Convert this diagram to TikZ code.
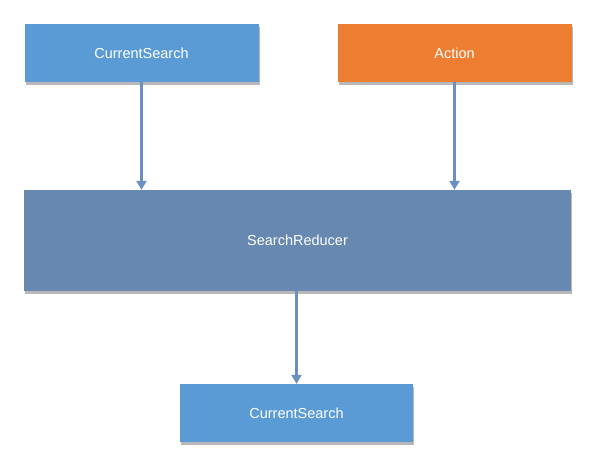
\documentclass[tikz,border=0pt]{standalone}
\usepackage{fontspec}
\setmainfont{Liberation Sans}
\usetikzlibrary{arrows.meta,shadows}

\definecolor{boxblue}{HTML}{5B9BD5}
\definecolor{boxorange}{HTML}{ED7D31}
\definecolor{reducer}{HTML}{6788B1}
\definecolor{flow}{HTML}{6A8FC0}

\tikzset{
  block/.style={rectangle, inner sep=0pt, text=white, font=\fontsize{14.5}{17}\selectfont,
    drop shadow={shadow xshift=1pt, shadow yshift=-2.5pt, fill=black!35, opacity=0.8}},
  flowarrow/.style={draw=flow, line width=2.2pt, -{Triangle[width=10pt,length=9pt,fill=boxblue]}}
}

\begin{document}
\begin{tikzpicture}[x=1pt,y=-1pt]
  \useasboundingbox (0,0) rectangle (596,472);
  % top row
  \node[block, fill=boxblue, minimum width=234pt, minimum height=58pt] (search) at (141.5,53) {CurrentSearch};
  \node[block, fill=boxorange, minimum width=234pt, minimum height=58pt] (action) at (454.5,53) {Action};
  % reducer
  \node[block, fill=reducer, minimum width=547pt, minimum height=101pt] (reducer) at (297.5,240.5) {SearchReducer};
  % result
  \node[block, fill=boxblue, minimum width=233pt, minimum height=58pt] (result) at (296.5,413) {CurrentSearch};

  \draw[flowarrow] (search.south) -- (search.south |- reducer.north);
  \draw[flowarrow] (action.south) -- (action.south |- reducer.north);
  \draw[flowarrow] (reducer.south -| result.north) -- (result.north);
\end{tikzpicture}
\end{document}
